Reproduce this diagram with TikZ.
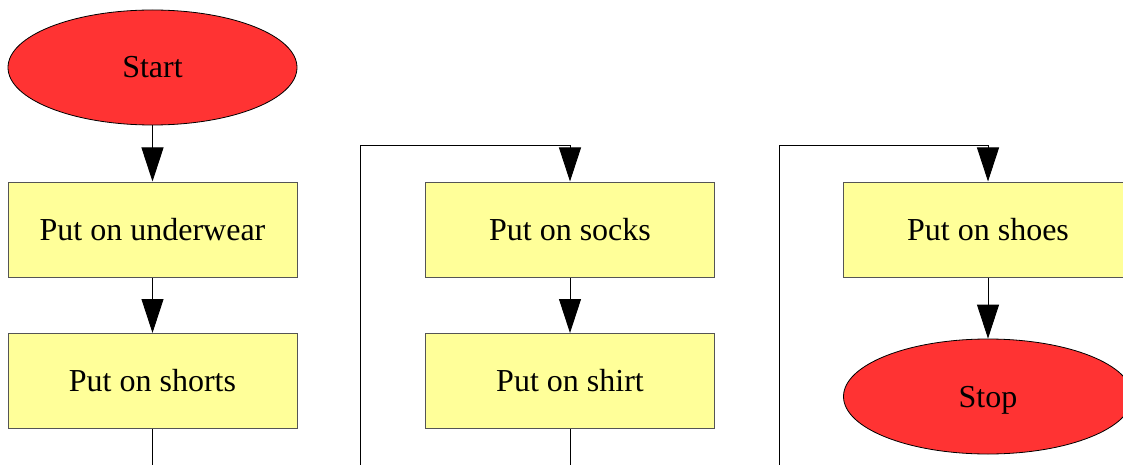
\documentclass[tikz,border=0pt]{standalone}
\usepackage{fontspec}
\setmainfont{Liberation Serif}
\usetikzlibrary{arrows.meta,shapes.geometric}
\definecolor{termred}{HTML}{FF3333}
\definecolor{stepyellow}{HTML}{FFFF99}
\definecolor{stepedge}{HTML}{555555}
\tikzset{
  label text/.style={font=\fontsize{32}{36}\selectfont, text height=21pt, text depth=0pt},
  terminal/.style={ellipse, draw=black, line width=0.8pt, fill=termred,
    minimum width=289pt, minimum height=115pt, inner sep=0pt, label text},
  stepbox/.style={rectangle, draw=stepedge, line width=1pt, fill=stepyellow,
    minimum width=289pt, minimum height=95pt, inner sep=0pt, label text},
  flow/.style={draw=black, line width=0.9pt,
    -{Triangle[length=34pt, width=22pt]}},
  plain/.style={draw=black, line width=0.9pt}
}
\begin{document}
\begin{tikzpicture}[x=1pt, y=-1pt]
  \clip (0,0) rectangle (1123,465);
  \fill[white] (0,0) rectangle (1123,465);

  % first column
  \node[terminal] (start) at (152.5,67.5) {Start};
  \node[stepbox] (under) at (152.5,229.5) {Put on underwear};
  \node[stepbox] (shorts) at (152.5,381) {Put on shorts};
  \coordinate (c1out) at (152.5,465);

  % second column
  \node[stepbox] (socks) at (570,229.5) {Put on socks};
  \node[stepbox] (shirt) at (570,381) {Put on shirt};
  \coordinate (c2in) at (360,465);
  \coordinate (c2out) at (570,465);

  % third column
  \node[stepbox] (shoes) at (988,229.5) {Put on shoes};
  \node[terminal] (stop) at (988,396.5) {Stop};
  \coordinate (c3in) at (779,465);

  % connectors
  \draw[flow] (start) -- (under);
  \draw[flow] (under) -- (shorts);
  \draw[plain] (shorts) -- (c1out);
  \draw[flow] (c2in) |- (360,145) -| (socks);
  \draw[flow] (socks) -- (shirt);
  \draw[plain] (shirt) -- (c2out);
  \draw[flow] (c3in) |- (779,145) -| (shoes);
  \draw[flow] (shoes) -- (stop);
\end{tikzpicture}
\end{document}
